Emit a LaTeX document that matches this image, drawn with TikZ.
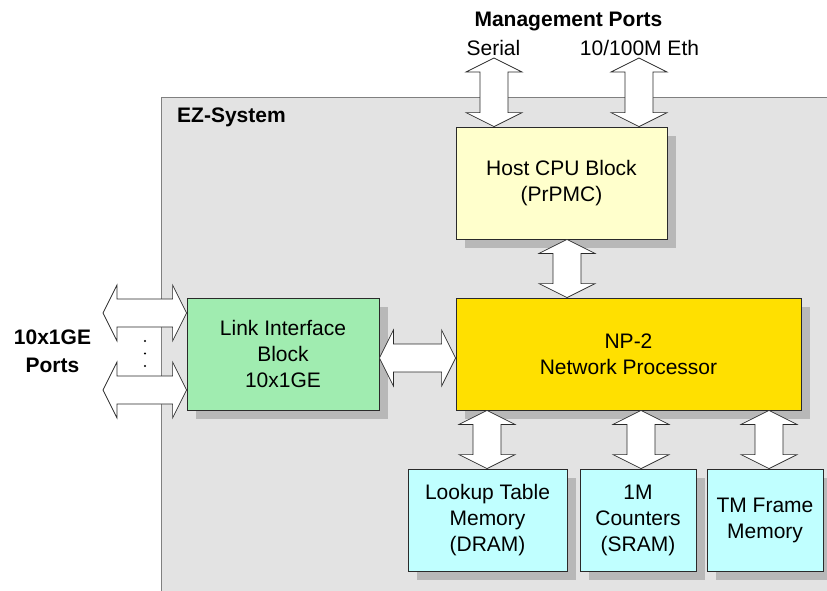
\documentclass[tikz,border=0pt]{standalone}
\usepackage{fontspec}
\setmainfont{Liberation Sans}
\usetikzlibrary{calc,shadows}
\definecolor{ezgray}{HTML}{E3E3E3}
\definecolor{ezline}{HTML}{808080}
\definecolor{shadowc}{HTML}{B8B8B8}
\definecolor{hostc}{HTML}{FFFFCC}
\definecolor{npc}{HTML}{FFE000}
\definecolor{linkc}{HTML}{A0ECB0}
\definecolor{memc}{HTML}{C0FFFF}
\definecolor{edgec}{HTML}{2A2A2A}
\tikzset{
  txt/.style={font={\fontsize{21}{26}\selectfont}, inner sep=0pt, text=black},
  boldtxt/.style={font={\fontsize{21}{28}\selectfont\bfseries}, inner sep=0pt, text=black},
  blk/.style={txt, draw=edgec, line width=0.8pt, align=center,
    general shadow={fill=shadowc, shadow xshift=9pt, shadow yshift=-9pt}},
  varrow/.style={draw=edgec, fill=white, line width=0.7pt, line join=miter,
    to path={let \p1=(\tikztostart), \p2=(\tikztotarget) in
      -- (\x1+28pt,\y1-14pt) -- (\x1+14pt,\y1-14pt) -- (\x1+14pt,\y2+14pt)
      -- (\x1+28pt,\y2+14pt) -- (\x1,\y2) -- (\x1-28pt,\y2+14pt)
      -- (\x1-14pt,\y2+14pt) -- (\x1-14pt,\y1-14pt) -- (\x1-28pt,\y1-14pt) -- cycle}},
  harrow/.style={draw=edgec, fill=white, line width=0.7pt, line join=miter,
    to path={let \p1=(\tikztostart), \p2=(\tikztotarget) in
      -- (\x1+14pt,\y1+28pt) -- (\x1+14pt,\y1+14pt) -- (\x2-14pt,\y1+14pt)
      -- (\x2-14pt,\y1+28pt) -- (\x2,\y1) -- (\x2-14pt,\y1-28pt)
      -- (\x2-14pt,\y1-14pt) -- (\x1+14pt,\y1-14pt) -- (\x1+14pt,\y1-28pt) -- cycle}},
}
\begin{document}
\begin{tikzpicture}[x=1pt,y=-1pt]
\useasboundingbox (0,0) rectangle (827,590);
\clip (0,0) rectangle (827,590);
% system frame
\draw[fill=ezgray, draw=ezline, line width=0.8pt] (161,97) rectangle (860,630);
\node[boldtxt, anchor=base west] (ez) at (177,122) {EZ-System};
% blocks
\node[blk, fill=hostc, minimum width=211pt, minimum height=112pt] (host) at (561.5,183) {Host CPU Block\\(PrPMC)};
\node[blk, fill=npc, minimum width=345pt, minimum height=112pt] (np) at (628.5,354) {NP-2\\Network Processor};
\node[blk, fill=linkc, minimum width=192pt, minimum height=112pt] (link) at (283,354) {Link Interface\\Block\\10x1GE};
\node[blk, fill=memc, minimum width=159pt, minimum height=102pt] (lut) at (487.5,520) {Lookup Table\\Memory\\(DRAM)};
\node[blk, fill=memc, minimum width=116pt, minimum height=102pt] (cnt) at (638,520) {1M\\Counters\\(SRAM)};
\node[blk, fill=memc, minimum width=116pt, minimum height=102pt] (tm) at (765,520) {TM Frame\\Memory};
% labels
\node[boldtxt, anchor=base] (mgmt) at (568.5,26) {Management Ports};
\node[txt, anchor=base] (serial) at (493.5,55) {Serial};
\node[txt, anchor=base] (eth) at (639.5,55) {10/100M Eth};
\node[boldtxt, align=center] (ports) at (52.5,351.5) {10x1GE\\Ports};
% helper coordinates
\coordinate (s1) at (494,58);
\coordinate (s2) at (639,58);
\coordinate (p1) at (103,313);
\coordinate (p2) at (103,390);
\coordinate (mid) at (0,358);
\coordinate (hn) at (567,0);
\coordinate (m1) at (487,0);
\coordinate (m2) at (641,0);
\coordinate (m3) at (769,0);
% arrows
\draw[varrow] (s1) to (s1 |- host.north);
\draw[varrow] (s2) to (s2 |- host.north);
\draw[varrow] (host.south -| hn) to (np.north -| hn);
\draw[varrow] (np.south -| m1) to (lut.north -| m1);
\draw[varrow] (np.south -| m2) to (cnt.north -| m2);
\draw[varrow] (np.south -| m3) to (tm.north -| m3);
\draw[harrow] (p1) to (p1 -| link.west);
\draw[harrow] (p2) to (p2 -| link.west);
\draw[harrow] (link.east |- mid) to (np.west |- mid);
% dots
\fill[black] (145,341) circle (1.1);
\fill[black] (145,353.5) circle (1.1);
\fill[black] (145,366) circle (1.1);
\end{tikzpicture}
\end{document}
